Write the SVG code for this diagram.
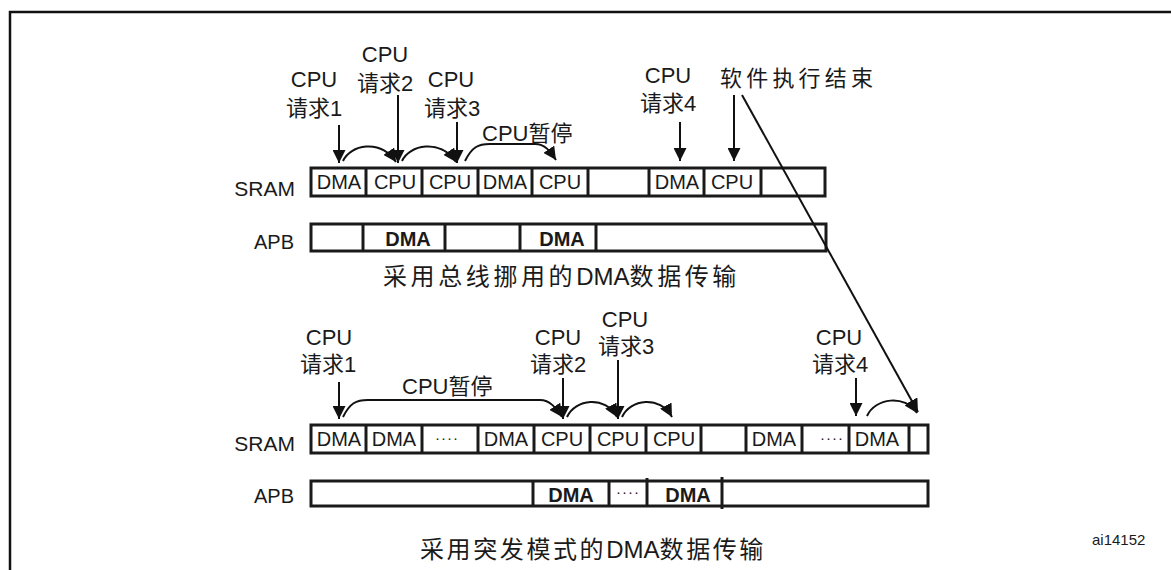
<svg xmlns="http://www.w3.org/2000/svg" width="1171" height="570" viewBox="0 0 1171 570">
<style>
.t{font-family:"Liberation Sans","Noto Sans CJK SC",sans-serif;fill:#1a1a1a}
.lbl{font-size:22px;text-anchor:middle}
.cap{font-size:24px}
.cell{font-size:20px;text-anchor:middle}
.bold{font-size:20px;font-weight:bold;text-anchor:middle}
.row{fill:#fff;stroke:#1a1a1a;stroke-width:3}
.div{stroke:#1a1a1a;stroke-width:3}
.dots{font-size:15px;text-anchor:middle;letter-spacing:1px}
.con{fill:none;stroke:#111;stroke-width:2}
</style>
<defs>
<marker id="ah" viewBox="0 0 14 14" refX="14" refY="7" markerWidth="13" markerHeight="13" markerUnits="userSpaceOnUse" orient="auto">
<path d="M0,0 L14,7 L0,14 z" fill="#111"/>
</marker>
</defs>
<rect width="1171" height="570" fill="#fff"/>
<path d="M10,570 L10,12 L1171,12" fill="none" stroke="#111" stroke-width="2.5"/>

<!-- Section 1 -->
<g id="label-sram1"><text class="t" x="295" y="196" font-size="21" text-anchor="end">SRAM</text></g>
<g id="label-apb1"><text class="t" x="294" y="249" font-size="20" text-anchor="end">APB</text></g>

<g id="sram1">
<rect class="row" x="311" y="168" width="514" height="28"/>
<line class="div" x1="366" y1="168" x2="366" y2="196"/>
<line class="div" x1="422" y1="168" x2="422" y2="196"/>
<line class="div" x1="478" y1="168" x2="478" y2="196"/>
<line class="div" x1="532" y1="168" x2="532" y2="196"/>
<line class="div" x1="588" y1="168" x2="588" y2="196"/>
<line class="div" x1="649" y1="168" x2="649" y2="196"/>
<line class="div" x1="704" y1="168" x2="704" y2="196"/>
<line class="div" x1="761" y1="168" x2="761" y2="196"/>
<text class="t cell" x="339" y="189">DMA</text>
<text class="t cell" x="395" y="189">CPU</text>
<text class="t cell" x="450" y="189">CPU</text>
<text class="t cell" x="505" y="189">DMA</text>
<text class="t cell" x="560" y="189">CPU</text>
<text class="t cell" x="677" y="189">DMA</text>
<text class="t cell" x="732" y="189">CPU</text>
</g>

<g id="apb1">
<rect class="row" x="311" y="224" width="515" height="27"/>
<line class="div" x1="363" y1="224" x2="363" y2="251"/>
<line class="div" x1="445" y1="224" x2="445" y2="252"/>
<line class="div" x1="520" y1="224" x2="520" y2="251"/>
<line class="div" x1="596" y1="224" x2="596" y2="251"/>
<text class="t bold" x="408" y="246">DMA</text>
<text class="t bold" x="562" y="246">DMA</text>
</g>

<g id="caption1"><text class="t cap" x="383" y="285"><tspan letter-spacing="3.6">采用总线挪用的</tspan><tspan>DMA</tspan><tspan letter-spacing="3.6">数据传输</tspan></text></g>

<g id="req1-1"><text class="t lbl" x="314" y="87">CPU</text><text class="t lbl" x="314" y="116">请求1</text></g>
<g id="req1-2"><text class="t lbl" x="385" y="62">CPU</text><text class="t lbl" x="385" y="91">请求2</text></g>
<g id="req1-3"><text class="t lbl" x="451" y="87">CPU</text><text class="t lbl" x="452" y="116">请求3</text></g>
<g id="pause1"><text class="t" x="482" y="141" font-size="22">CPU暂停</text></g>
<g id="req1-4"><text class="t lbl" x="668" y="83">CPU</text><text class="t lbl" x="668" y="111">请求4</text></g>
<g id="end"><text class="t" x="720" y="86" font-size="22" textLength="153" lengthAdjust="spacing">软件执行结束</text></g>

<!-- Section 2 -->
<g id="label-sram2"><text class="t" x="295" y="451" font-size="21" text-anchor="end">SRAM</text></g>
<g id="label-apb2"><text class="t" x="294" y="503" font-size="20" text-anchor="end">APB</text></g>

<g id="sram2">
<rect class="row" x="311" y="425" width="617" height="28"/>
<line class="div" x1="366" y1="425" x2="366" y2="453"/>
<line class="div" x1="422" y1="425" x2="422" y2="453"/>
<line class="div" x1="478" y1="425" x2="478" y2="453"/>
<line class="div" x1="534" y1="425" x2="534" y2="453"/>
<line class="div" x1="590" y1="425" x2="590" y2="453"/>
<line class="div" x1="646" y1="425" x2="646" y2="453"/>
<line class="div" x1="701" y1="425" x2="701" y2="453"/>
<line class="div" x1="746" y1="425" x2="746" y2="453"/>
<line class="div" x1="802" y1="425" x2="802" y2="453"/>
<line class="div" x1="849" y1="425" x2="849" y2="453"/>
<line class="div" x1="909" y1="425" x2="909" y2="453"/>
<text class="t cell" x="339" y="446">DMA</text>
<text class="t cell" x="394" y="446">DMA</text>
<text class="t dots" x="447" y="443">····</text>
<text class="t cell" x="506" y="446">DMA</text>
<text class="t cell" x="562" y="446">CPU</text>
<text class="t cell" x="618" y="446">CPU</text>
<text class="t cell" x="674" y="446">CPU</text>
<text class="t cell" x="774" y="446">DMA</text>
<text class="t dots" x="832" y="443">····</text>
<text class="t cell" x="877" y="446">DMA</text>
</g>

<g id="apb2">
<rect class="row" x="311" y="481" width="617" height="25"/>
<line class="div" x1="533" y1="481" x2="533" y2="506"/>
<line class="div" x1="609" y1="481" x2="609" y2="506"/>
<line class="div" x1="647" y1="478" x2="647" y2="506"/>
<line class="div" x1="722" y1="477" x2="722" y2="509"/>
<text class="t bold" x="571" y="502">DMA</text>
<text class="t dots" x="628" y="497">····</text>
<text class="t bold" x="688" y="502">DMA</text>
</g>

<g id="caption2"><text class="t cap" x="420" y="558"><tspan letter-spacing="2.6">采用突发模式的</tspan><tspan>DMA</tspan><tspan letter-spacing="2.6">数据传输</tspan></text></g>

<g id="req2-1"><text class="t lbl" x="329" y="345">CPU</text><text class="t lbl" x="328" y="372">请求1</text></g>
<g id="pause2"><text class="t" x="402" y="394" font-size="22">CPU暂停</text></g>
<g id="req2-2"><text class="t lbl" x="558" y="345">CPU</text><text class="t lbl" x="558" y="372">请求2</text></g>
<g id="req2-3"><text class="t lbl" x="625" y="327">CPU</text><text class="t lbl" x="626" y="354">请求3</text></g>
<g id="req2-4"><text class="t lbl" x="839" y="345">CPU</text><text class="t lbl" x="840" y="372">请求4</text></g>

<g id="figid"><text class="t" x="1092" y="545" font-size="15">ai14152</text></g>

<g id="connectors">
<line class="con" x1="339" y1="125" x2="339" y2="163" marker-end="url(#ah)"/>
<line class="con" x1="398" y1="95" x2="398" y2="163" marker-end="url(#ah)"/>
<line class="con" x1="457" y1="122" x2="457" y2="163" marker-end="url(#ah)"/>
<line class="con" x1="680" y1="122" x2="680" y2="161" marker-end="url(#ah)"/>
<line class="con" x1="734" y1="95" x2="734" y2="161" marker-end="url(#ah)"/>
<path class="con" d="M343,161 C350,145 380,138 396,162" marker-end="url(#ah)"/>
<path class="con" d="M402,161 C409,145 440,138 456,162" marker-end="url(#ah)"/>
<path class="con" d="M465,161 C472,147 478,144 490,144 L535,144 C545,144 550,151 556,160" marker-end="url(#ah)"/>
<line class="con" x1="742" y1="95" x2="918" y2="412" stroke-width="1.6" marker-end="url(#ah)"/>

<line class="con" x1="339" y1="382" x2="339" y2="419" marker-end="url(#ah)"/>
<line class="con" x1="563" y1="378" x2="563" y2="419" marker-end="url(#ah)"/>
<line class="con" x1="618" y1="360" x2="618" y2="419" marker-end="url(#ah)"/>
<line class="con" x1="856" y1="378" x2="856" y2="416" marker-end="url(#ah)"/>
<path class="con" d="M343,417 C350,403 356,400 368,400 L540,400 C550,400 556,408 562,417" marker-end="url(#ah)"/>
<path class="con" d="M567,417 C575,399 605,395 617,417" marker-end="url(#ah)"/>
<path class="con" d="M622,417 C630,399 660,395 672,417" marker-end="url(#ah)"/>
<path class="con" d="M867,416 C875,398 905,394 917,413" marker-end="url(#ah)"/>
</g>
</svg>
